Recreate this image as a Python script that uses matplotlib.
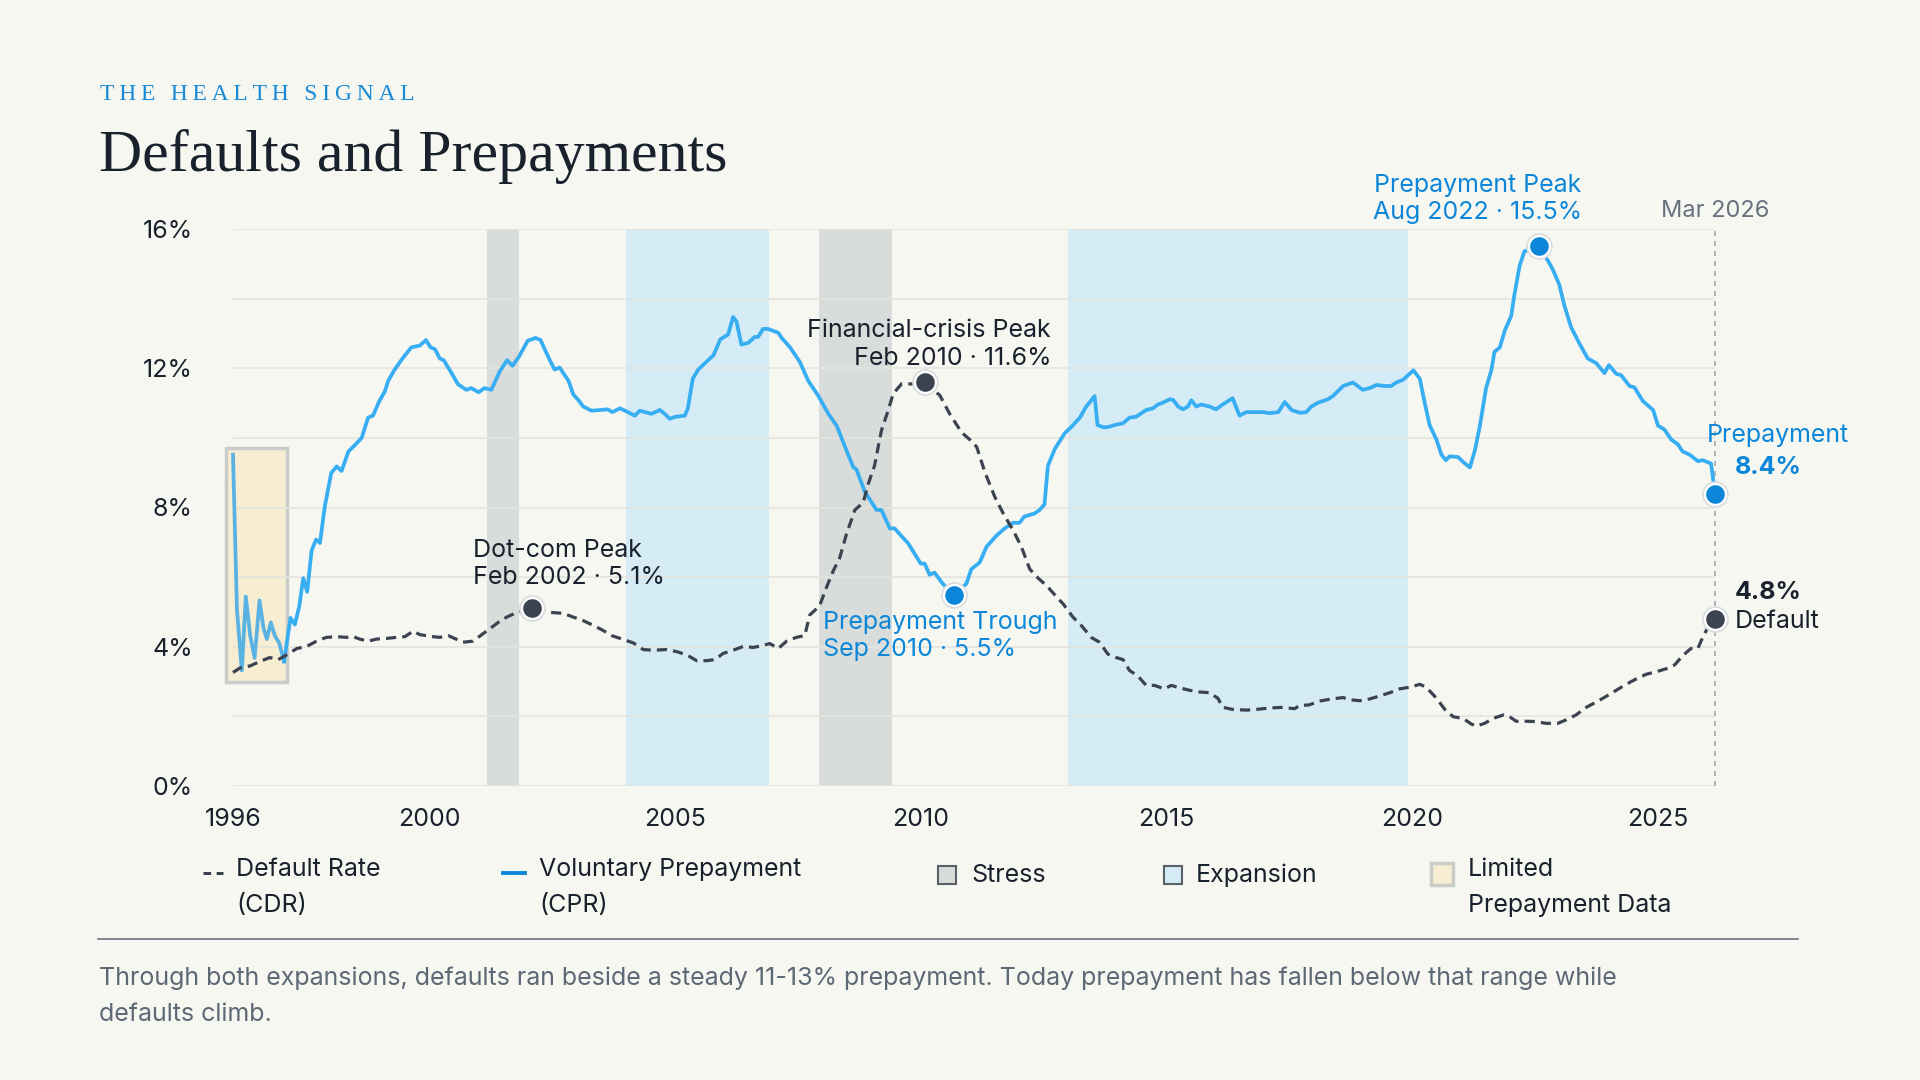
import matplotlib.pyplot as plt
from matplotlib.patches import Rectangle
from matplotlib.lines import Line2D

# ---- data (% per year) ----
prepay_years = [
    1996.0, 1996.08, 1996.18, 1996.26, 1996.35, 1996.44, 1996.54, 1996.62, 1996.69, 1996.77,
    1996.85, 1996.94, 1997.04, 1997.17, 1997.26, 1997.35, 1997.43, 1997.51, 1997.6, 1997.69,
    1997.77, 1997.87, 1998.0, 1998.11, 1998.21, 1998.35, 1998.48, 1998.62, 1998.75, 1998.85,
    1998.98, 1999.09, 1999.16, 1999.29, 1999.46, 1999.63, 1999.8, 1999.93, 2000.02, 2000.11,
    2000.21, 2000.29, 2000.45, 2000.58, 2000.75, 2000.85, 2001.0, 2001.12, 2001.26, 2001.43,
    2001.58, 2001.69, 2001.82, 2002.0, 2002.16, 2002.26, 2002.45, 2002.55, 2002.65, 2002.83,
    2002.93, 2003.03, 2003.13, 2003.3, 2003.47, 2003.63, 2003.72, 2003.88, 2004.18, 2004.28,
    2004.52, 2004.69, 2004.79, 2004.89, 2004.99, 2005.2, 2005.26, 2005.36, 2005.47, 2005.67,
    2005.78, 2005.92, 2006.08, 2006.18, 2006.25, 2006.35, 2006.49, 2006.62, 2006.69, 2006.79,
    2006.89, 2007.1, 2007.17, 2007.34, 2007.54, 2007.71, 2007.91, 2008.12, 2008.29, 2008.46,
    2008.63, 2008.69, 2008.86, 2009.1, 2009.2, 2009.37, 2009.47, 2009.6, 2009.74, 2009.88,
    2010.0, 2010.08, 2010.18, 2010.28, 2010.45, 2010.59, 2010.67, 2010.93, 2011.03, 2011.2,
    2011.34, 2011.54, 2011.71, 2011.88, 2012.01, 2012.11, 2012.32, 2012.42, 2012.52, 2012.59,
    2012.73, 2012.93, 2013.07, 2013.24, 2013.37, 2013.54, 2013.6, 2013.72, 2013.84, 2013.95,
    2014.12, 2014.25, 2014.39, 2014.59, 2014.73, 2014.83, 2014.93, 2015.07, 2015.14, 2015.24,
    2015.34, 2015.44, 2015.51, 2015.61, 2015.71, 2015.88, 2016.01, 2016.15, 2016.35, 2016.49,
    2016.63, 2016.8, 2016.97, 2017.1, 2017.28, 2017.41, 2017.55, 2017.72, 2017.85, 2017.95,
    2018.09, 2018.19, 2018.29, 2018.39, 2018.6, 2018.7, 2018.8, 2019.0, 2019.14, 2019.28,
    2019.45, 2019.58, 2019.68, 2019.82, 2019.92, 2020.03, 2020.16, 2020.26, 2020.36, 2020.5,
    2020.6, 2020.69, 2020.77, 2020.94, 2021.04, 2021.18, 2021.28, 2021.38, 2021.51, 2021.62,
    2021.68, 2021.79, 2021.89, 2022.02, 2022.09, 2022.19, 2022.29, 2022.38, 2022.58, 2022.77,
    2022.87, 2023.0, 2023.1, 2023.24, 2023.41, 2023.58, 2023.75, 2023.92, 2024.01, 2024.16,
    2024.26, 2024.43, 2024.53, 2024.7, 2024.91, 2025.01, 2025.14, 2025.28, 2025.41, 2025.51,
    2025.65, 2025.82, 2025.92, 2026.09, 2026.17,
]
prepay_vals = [
    9.52, 5.07, 3.32, 5.44, 4.32, 3.68, 5.33, 4.54, 4.22, 4.70,
    4.32, 4.11, 3.58, 4.83, 4.64, 5.17, 5.97, 5.58, 6.76, 7.08,
    6.98, 8.04, 8.99, 9.18, 9.05, 9.61, 9.79, 10.0, 10.58, 10.64,
    11.06, 11.33, 11.64, 11.96, 12.30, 12.60, 12.65, 12.81, 12.60, 12.55,
    12.28, 12.23, 11.86, 11.54, 11.38, 11.43, 11.31, 11.43, 11.38, 11.91,
    12.23, 12.07, 12.33, 12.79, 12.87, 12.81, 12.23, 11.96, 12.02, 11.64,
    11.24, 11.09, 10.90, 10.78, 10.80, 10.82, 10.74, 10.85, 10.64, 10.78,
    10.69, 10.80, 10.69, 10.55, 10.60, 10.64, 10.85, 11.70, 11.96, 12.23,
    12.37, 12.83, 12.97, 13.47, 13.34, 12.68, 12.73, 12.90, 12.90, 13.13,
    13.13, 13.02, 12.87, 12.60, 12.18, 11.64, 11.22, 10.69, 10.35, 9.74,
    9.15, 9.10, 8.46, 7.93, 7.93, 7.40, 7.40, 7.19, 6.98, 6.66,
    6.39, 6.39, 6.07, 6.13, 5.81, 5.60, 5.50, 5.81, 6.23, 6.42,
    6.87, 7.19, 7.40, 7.56, 7.56, 7.74, 7.83, 7.93, 8.09, 9.20,
    9.68, 10.13, 10.32, 10.58, 10.90, 11.20, 10.37, 10.30, 10.32, 10.37,
    10.42, 10.58, 10.61, 10.80, 10.85, 10.96, 11.01, 11.11, 11.09, 10.90,
    10.82, 10.90, 11.08, 10.90, 10.96, 10.90, 10.82, 10.96, 11.14, 10.64,
    10.74, 10.74, 10.74, 10.71, 10.74, 11.03, 10.80, 10.72, 10.74, 10.90,
    11.01, 11.06, 11.11, 11.20, 11.49, 11.54, 11.59, 11.38, 11.43, 11.52,
    11.49, 11.49, 11.59, 11.67, 11.80, 11.94, 11.70, 11.01, 10.37, 9.95,
    9.52, 9.36, 9.47, 9.45, 9.31, 9.15, 9.63, 10.32, 11.43, 11.96,
    12.47, 12.60, 13.08, 13.50, 14.14, 14.93, 15.36, 15.40, 15.50, 15.09,
    14.83, 14.40, 13.82, 13.18, 12.71, 12.28, 12.15, 11.86, 12.09, 11.84,
    11.80, 11.49, 11.45, 11.06, 10.80, 10.35, 10.24, 9.95, 9.82, 9.61,
    9.52, 9.33, 9.36, 9.26, 8.40,
]

default_years = [
    1996.0, 1996.14, 1996.35, 1996.55, 1996.75, 1996.92, 1997.06, 1997.3, 1997.5, 1997.7,
    1997.9, 1998.11, 1998.31, 1998.45, 1998.58, 1998.75, 1998.92, 1999.13, 1999.33, 1999.5,
    1999.67, 1999.8, 2000.0, 2000.21, 2000.38, 2000.51, 2000.68, 2000.88, 2001.02, 2001.19,
    2001.4, 2001.57, 2001.74, 2001.94, 2002.08, 2002.35, 2002.52, 2002.72, 2002.93, 2003.13,
    2003.34, 2003.52, 2003.71, 2003.88, 2004.15, 2004.35, 2004.55, 2004.83, 2005.06, 2005.27,
    2005.44, 2005.64, 2005.81, 2005.98, 2006.18, 2006.39, 2006.59, 2006.76, 2006.93, 2007.1,
    2007.27, 2007.47, 2007.64, 2007.74, 2007.94, 2008.08, 2008.22, 2008.35, 2008.49, 2008.66,
    2008.83, 2008.93, 2009.06, 2009.2, 2009.34, 2009.44, 2009.61, 2009.81, 2010.08, 2010.39,
    2010.59, 2010.83, 2011.0, 2011.14, 2011.31, 2011.51, 2011.68, 2011.88, 2012.05, 2012.22,
    2012.39, 2012.56, 2012.73, 2012.9, 2013.1, 2013.27, 2013.47, 2013.64, 2013.81, 2013.98,
    2014.12, 2014.25, 2014.42, 2014.59, 2014.76, 2014.96, 2015.1, 2015.27, 2015.47, 2015.68,
    2015.88, 2016.05, 2016.15, 2016.35, 2016.63, 2016.83, 2017.1, 2017.37, 2017.61, 2017.71,
    2017.91, 2018.12, 2018.36, 2018.6, 2018.73, 2018.94, 2019.14, 2019.35, 2019.55, 2019.75,
    2019.96, 2020.16, 2020.29, 2020.5, 2020.67, 2020.84, 2021.04, 2021.21, 2021.31, 2021.48,
    2021.65, 2021.86, 2021.99, 2022.12, 2022.33, 2022.53, 2022.73, 2022.97, 2023.14, 2023.34,
    2023.55, 2023.75, 2023.95, 2024.16, 2024.36, 2024.56, 2024.77, 2024.97, 2025.18, 2025.35,
    2025.51, 2025.68, 2025.82, 2025.92, 2026.02, 2026.17,
]
default_vals = [
    3.26, 3.39, 3.45, 3.58, 3.69, 3.63, 3.74, 3.95, 4.01, 4.16,
    4.27, 4.29, 4.27, 4.29, 4.22, 4.16, 4.22, 4.24, 4.27, 4.29,
    4.45, 4.35, 4.30, 4.27, 4.32, 4.24, 4.13, 4.16, 4.30, 4.48,
    4.70, 4.85, 4.96, 5.05, 5.10, 5.02, 4.98, 4.96, 4.85, 4.75,
    4.61, 4.48, 4.32, 4.24, 4.11, 3.92, 3.90, 3.92, 3.85, 3.74,
    3.60, 3.60, 3.63, 3.81, 3.90, 4.01, 3.98, 4.03, 4.09, 3.95,
    4.16, 4.27, 4.32, 4.91, 5.17, 5.70, 6.18, 6.55, 7.24, 7.93,
    8.14, 8.67, 9.20, 10.21, 10.80, 11.27, 11.55, 11.55, 11.60, 11.22,
    10.69, 10.16, 9.95, 9.74, 9.00, 8.30, 7.83, 7.35, 6.87, 6.23,
    5.97, 5.76, 5.49, 5.23, 4.85, 4.61, 4.27, 4.13, 3.79, 3.69,
    3.63, 3.32, 3.16, 2.89, 2.89, 2.79, 2.89, 2.82, 2.75, 2.70,
    2.68, 2.52, 2.26, 2.20, 2.18, 2.20, 2.24, 2.26, 2.22, 2.31,
    2.33, 2.44, 2.50, 2.54, 2.48, 2.45, 2.50, 2.59, 2.68, 2.79,
    2.84, 2.92, 2.84, 2.52, 2.20, 1.99, 1.94, 1.78, 1.72, 1.80,
    1.94, 2.04, 1.99, 1.86, 1.86, 1.85, 1.80, 1.80, 1.90, 2.04,
    2.26, 2.41, 2.57, 2.75, 2.92, 3.07, 3.21, 3.28, 3.37, 3.48,
    3.74, 3.95, 3.95, 4.27, 4.54, 4.80,
]

stress_periods = [(2001.17, 2001.83), (2007.92, 2009.42)]
expansion_periods = [(2004.0, 2006.92), (2013.0, 2019.92)]
limited_end = 1997.04

# highlighted points: (year, value)
dotcom_peak = (2002.08, 5.1)
crisis_peak = (2010.08, 11.6)
prepay_trough = (2010.67, 5.5)
prepay_peak = (2022.58, 15.5)
latest = 2026.17
latest_prepay = 8.4
latest_default = 4.8

xticks = [1996, 2000, 2005, 2010, 2015, 2020, 2025]
yticks = [0, 4, 8, 12, 16]

# ---- style ----
BG = "#F7F7F2"
BLUE_LINE = "#38AEF2"
BLUE_TXT = "#0B86D8"
DARK = "#3B4350"
INK = "#19212C"
GRAY = "#67717D"
SANS = ["Inter", "DejaVu Sans"]
SERIF = ["Liberation Serif", "DejaVu Serif"]

plt.rcParams["font.family"] = SANS

W, H = 1920, 1080


def fx(px):
    return px / W


def fy(py):
    return 1 - py / H


fig = plt.figure(figsize=(19.2, 10.8), dpi=100, facecolor=BG)
ax = fig.add_axes([fx(233), fy(786), (1715 - 233) / W, (786 - 229) / H])
ax.set_facecolor(BG)

# bands
for a, b in stress_periods:
    ax.axvspan(a, b, color="#D8DCDA", lw=0, zorder=0)
for a, b in expansion_periods:
    ax.axvspan(a, b, color="#D5EBF6", lw=0, zorder=0)

# limited-data box
ax.add_patch(Rectangle((1995.85, 3.0), 1.25, 6.7, facecolor="#F6EDD2",
                       edgecolor="#C9CCC8", lw=2.5, zorder=0.3, clip_on=False))

# lines
n_lim = sum(1 for y in prepay_years if y <= limited_end)
ax.plot(prepay_years[:n_lim], prepay_vals[:n_lim], color="#59B2E2", lw=2.7,
        zorder=3, clip_on=False)
ax.plot(prepay_years[n_lim - 1:], prepay_vals[n_lim - 1:], color=BLUE_LINE, lw=2.7,
        zorder=3, clip_on=False)
ax.plot(default_years, default_vals, color=DARK, lw=2.3, ls=(0, (3.2, 1.9)),
        zorder=3, clip_on=False)

# vertical "today" line
ax.plot([latest, latest], [0, 16], color="#A5A9AD", lw=1.2, ls=(0, (3, 3)), zorder=2,
        clip_on=False)
ax.annotate("Mar 2026", (latest, 16), xytext=(0, 13), textcoords="offset points",
            ha="center", va="center", fontsize=17, color=GRAY)


def dot(pt, color):
    ax.plot(pt[0], pt[1], "o", ms=16, color=color, mec="#DADDE0", mew=3.2, zorder=5,
            clip_on=False)
    ax.plot(pt[0], pt[1], "o", ms=15, color=color, mec="white", mew=1.6, zorder=6,
            clip_on=False)


dot(dotcom_peak, DARK)
dot(crisis_peak, DARK)
dot(prepay_trough, BLUE_TXT)
dot(prepay_peak, BLUE_TXT)
dot((latest, latest_prepay), BLUE_TXT)
dot((latest, latest_default), DARK)

fs = 18
ax.annotate(f"Dot-com Peak\nFeb 2002 · {dotcom_peak[1]}%", dotcom_peak, xytext=(-42, 32),
            textcoords="offset points", ha="left", va="center", fontsize=fs, color=INK,
            linespacing=1.25)
ax.annotate(f"Financial-crisis Peak\nFeb 2010 · {crisis_peak[1]}%", crisis_peak,
            xytext=(91, 27), textcoords="offset points", ha="right", va="center",
            multialignment="right", fontsize=fs, color=INK, linespacing=1.25)
ax.annotate(f"Prepayment Trough\nSep 2010 · {prepay_trough[1]}%", prepay_trough,
            xytext=(-94, -30), textcoords="offset points", ha="left", va="center",
            fontsize=fs, color=BLUE_TXT, linespacing=1.25)
ax.annotate(f"Prepayment Peak\nAug 2022 · {prepay_peak[1]}%", prepay_peak,
            xytext=(-44, 34), textcoords="offset points", ha="center", va="center",
            multialignment="center", fontsize=fs, color=BLUE_TXT, linespacing=1.25)
ax.annotate("Prepayment", (latest, latest_prepay), xytext=(-6, 42),
            textcoords="offset points", ha="left", va="center", fontsize=fs,
            color=BLUE_TXT)
ax.annotate(f"{latest_prepay}%", (latest, latest_prepay), xytext=(14, 19),
            textcoords="offset points", ha="left", va="center", fontsize=fs,
            color=BLUE_TXT, fontweight="bold")
ax.annotate(f"{latest_default}%", (latest, latest_default), xytext=(14, 19),
            textcoords="offset points", ha="left", va="center", fontsize=fs,
            color=INK, fontweight="bold")
ax.annotate("Default", (latest, latest_default), xytext=(14, -2),
            textcoords="offset points", ha="left", va="center", fontsize=fs,
            color=INK)

# axes
ax.set_xlim(1996, latest)
ax.set_ylim(0, 16)
ax.set_xticks(xticks)
ax.set_xticklabels([str(x) for x in xticks])
ax.set_yticks(yticks)
ax.set_yticklabels([f"{v}%" for v in yticks])
ax.set_yticks(range(0, 17, 2), minor=True)
ax.tick_params(length=0, labelsize=18, colors=INK, which="both")
ax.tick_params(axis="y", pad=29)
ax.tick_params(axis="x", pad=16)
ax.grid(axis="y", which="both", color="#E3E4DF", lw=1.2)
ax.set_axisbelow(True)
for s in ax.spines.values():
    s.set_visible(False)

# header
fig.text(fx(100), fy(94), "\u2009".join("THE HEALTH SIGNAL"), fontsize=17,
         family=SERIF, color="#1A8AD6", va="center")
fig.text(fx(99), fy(171), "Defaults and Prepayments", fontsize=43, family=SERIF,
         color=INK, va="baseline")

# legend (drawn by hand)
ly = 873
fig.add_artist(Line2D([fx(203), fx(223)], [fy(ly)] * 2, color=DARK, lw=2.2,
                      ls=(0, (2.5, 1.8))))
fig.text(fx(236), fy(ly - 15), "Default Rate\n(CDR)", fontsize=fs, color=INK,
         va="top", linespacing=1.72)
fig.add_artist(Line2D([fx(503), fx(525)], [fy(ly)] * 2, color=BLUE_TXT, lw=2.8))
fig.text(fx(539), fy(ly - 15), "Voluntary Prepayment\n(CPR)", fontsize=fs, color=INK,
         va="top", linespacing=1.72)
fig.add_artist(Rectangle((fx(938), fy(ly + 11)), 18 / W, 18 / H, facecolor="#D8DCDA",
                         edgecolor="#5A6068", lw=1.5, transform=fig.transFigure))
fig.text(fx(971), fy(ly + 2), "Stress", fontsize=fs, color=INK, va="center")
fig.add_artist(Rectangle((fx(1164), fy(ly + 11)), 18 / W, 18 / H, facecolor="#D5EBF6",
                         edgecolor="#5A6068", lw=1.5, transform=fig.transFigure))
fig.text(fx(1196), fy(ly + 2), "Expansion", fontsize=fs, color=INK, va="center")
fig.add_artist(Rectangle((fx(1431), fy(ly + 12)), 22 / W, 22 / H, facecolor="#F6EDD2",
                         edgecolor="#C9CCC8", lw=2.5, transform=fig.transFigure))
fig.text(fx(1468), fy(ly - 15), "Limited\nPrepayment Data", fontsize=fs, color=INK,
         va="top", linespacing=1.72)

# rule + note
fig.add_artist(Line2D([fx(98), fx(1798)], [fy(939)] * 2, color=GRAY, lw=1.2))
fig.text(fx(99), fy(967),
         "Through both expansions, defaults ran beside a steady 11-13% prepayment. "
         "Today prepayment has fallen below that range while\ndefaults climb.",
         fontsize=18, color="#5D6875", va="top", linespacing=1.72)

fig.savefig("out.png", dpi=100, facecolor=BG)
